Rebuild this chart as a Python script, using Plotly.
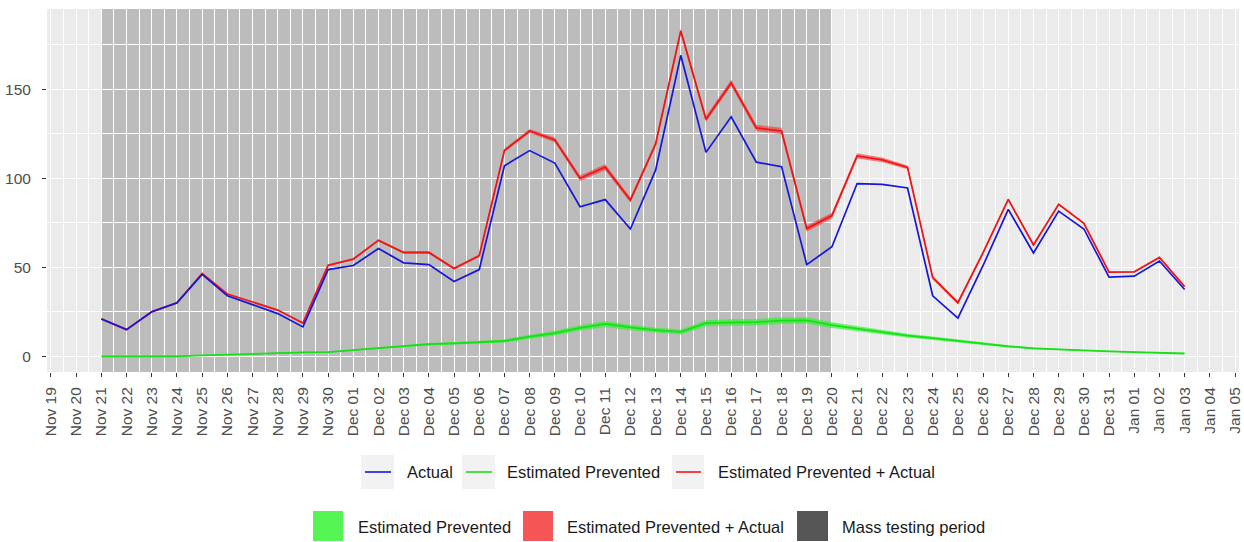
import plotly.graph_objects as go
from datetime import datetime, timedelta

# ---------------- data ----------------
dates = ["2020-11-21", "2020-11-22", "2020-11-23", "2020-11-24", "2020-11-25",
         "2020-11-26", "2020-11-27", "2020-11-28", "2020-11-29", "2020-11-30",
         "2020-12-01", "2020-12-02", "2020-12-03", "2020-12-04", "2020-12-05",
         "2020-12-06", "2020-12-07", "2020-12-08", "2020-12-09", "2020-12-10",
         "2020-12-11", "2020-12-12", "2020-12-13", "2020-12-14", "2020-12-15",
         "2020-12-16", "2020-12-17", "2020-12-18", "2020-12-19", "2020-12-20",
         "2020-12-21", "2020-12-22", "2020-12-23", "2020-12-24", "2020-12-25",
         "2020-12-26", "2020-12-27", "2020-12-28", "2020-12-29", "2020-12-30",
         "2020-12-31", "2021-01-01", "2021-01-02", "2021-01-03"]

actual = [21, 15, 25, 30, 46, 34, 29, 24, 16.5, 48.7,
          51, 60.5, 52.5, 51.5, 42, 48.7, 107, 115.5, 108.5, 84,
          88, 71.5, 104.5, 169, 114.5, 134.5, 109, 106.5, 51.5, 61.5,
          97, 96.5, 94.5, 34, 21.5, 51, 82.5, 58, 81.5, 71.5,
          44.5, 45, 53.5, 37.5]

prevented = [0, 0, 0, 0, 0.5, 1, 1.5, 2, 2.2, 2.4,
             3.6, 4.6, 5.8, 6.8, 7.3, 7.8, 8.6, 11, 13, 16,
             18.2, 16.2, 14.7, 13.7, 18.6, 19, 19.2, 20, 20.2, 17.5,
             15.5, 13.8, 11.6, 10.2, 8.6, 7.2, 5.6, 4.5, 3.8, 3.2,
             2.8, 2.4, 2, 1.6]

prevented_err = [0, 0, 0, 0, 0.1, 0.15, 0.2, 0.25, 0.3, 0.3,
                 0.4, 0.5, 0.6, 0.7, 0.7, 0.8, 0.9, 1.1, 1.3, 1.5,
                 1.7, 1.5, 1.4, 1.4, 1.7, 1.8, 1.8, 1.8, 1.8, 1.6,
                 1.5, 1.3, 1.1, 1.0, 0.9, 0.8, 0.6, 0.5, 0.4, 0.35,
                 0.3, 0.25, 0.2, 0.15]

mass_testing = ["2020-11-21", "2020-12-20"]
x_limits = ["2020-11-19", "2021-01-05"]
y_ticks = [0, 50, 100, 150]

line_legend = ["Actual", "Estimated Prevented", "Estimated Prevented + Actual"]
fill_legend = ["Estimated Prevented", "Estimated Prevented + Actual", "Mass testing period"]

# ---------------- derived ----------------
prev_lo = [p - e for p, e in zip(prevented, prevented_err)]
prev_hi = [p + e for p, e in zip(prevented, prevented_err)]
total = [a + p for a, p in zip(actual, prevented)]
total_lo = [a + p for a, p in zip(actual, prev_lo)]
total_hi = [a + p for a, p in zip(actual, prev_hi)]

BLUE = "#1515DD"
GREEN = "#15E015"
RED = "#F01515"

fig = go.Figure()

# green ribbon
fig.add_trace(go.Scatter(x=dates, y=prev_lo, mode="lines", line=dict(width=0),
                         showlegend=False, hoverinfo="skip"))
fig.add_trace(go.Scatter(x=dates, y=prev_hi, mode="lines", line=dict(width=0),
                         fill="tonexty", fillcolor="rgba(40,245,40,0.65)",
                         showlegend=False, hoverinfo="skip"))
fig.add_trace(go.Scatter(x=dates, y=prevented, mode="lines",
                         line=dict(color=GREEN, width=1.8), showlegend=False))
# red ribbon
fig.add_trace(go.Scatter(x=dates, y=total_lo, mode="lines", line=dict(width=0),
                         showlegend=False, hoverinfo="skip"))
fig.add_trace(go.Scatter(x=dates, y=total_hi, mode="lines", line=dict(width=0),
                         fill="tonexty", fillcolor="rgba(250,40,40,0.55)",
                         showlegend=False, hoverinfo="skip"))
fig.add_trace(go.Scatter(x=dates, y=total, mode="lines",
                         line=dict(color=RED, width=1.8), showlegend=False))
# actual
fig.add_trace(go.Scatter(x=dates, y=actual, mode="lines",
                         line=dict(color=BLUE, width=1.7), showlegend=False))

# mass testing shading
fig.add_shape(type="rect", xref="x", yref="paper", x0=mass_testing[0], x1=mass_testing[1],
              y0=0, y1=1, fillcolor="rgba(0,0,0,0.2)", line=dict(width=0), layer="between")

# ---------------- layout ----------------
W, H = 1244, 542
ML, MR, MT, MB = 47, 5, 9, 170
PW, PH = W - ML - MR, H - MT - MB

def px(x):
    return (x - ML) / PW

def py(y):
    return (H - MB - y) / PH

pad = timedelta(hours=3.8)
x0 = datetime.fromisoformat(x_limits[0]) - pad
x1 = datetime.fromisoformat(x_limits[1]) + pad

fig.update_layout(
    width=W, height=H,
    margin=dict(l=ML, r=MR, t=MT, b=MB, pad=0),
    paper_bgcolor="white", plot_bgcolor="#EBEBEB",
    font=dict(family="Liberation Sans, Arial, sans-serif", size=15.5, color="#4D4D4D"),
    showlegend=False,
    xaxis=dict(type="date", range=[x0, x1], dtick=86400000, tick0="2020-11-19",
               tickformat="%b %d", tickangle=-90, automargin=False,
               showgrid=True, gridcolor="white", gridwidth=1.2,
               minor=dict(dtick=43200000, showgrid=True, gridcolor="white", gridwidth=0.5),
               ticks="outside", ticklen=4, tickcolor="#333333", tickwidth=1,
               ticklabelstandoff=4,
               zeroline=False, showline=False,
               tickfont=dict(size=15.5, color="#4D4D4D")),
    yaxis=dict(range=[-8.8, 195], tickvals=y_ticks, automargin=False,
               showgrid=True, gridcolor="white", gridwidth=1.2,
               minor=dict(tickvals=[25, 75, 125, 175], showgrid=True, gridcolor="white", gridwidth=0.5),
               ticks="outside", ticklen=4, tickcolor="#333333", tickwidth=1,
               ticklabelstandoff=8,
               zeroline=False, showline=False,
               tickfont=dict(size=15.5, color="#4D4D4D")),
)

# ---------------- manual legend ----------------
shapes = []
annots = []
# row 1: line keys
row1_keys = [(361, 394), (462, 495), (672, 704)]
row1_text_x = [406, 506, 717]
row1_colors = [BLUE, GREEN, RED]
for (k0, k1), tx, col, lab in zip(row1_keys, row1_text_x, row1_colors, line_legend):
    shapes.append(dict(type="rect", xref="paper", yref="paper",
                       x0=px(k0), x1=px(k1), y0=py(489), y1=py(455),
                       fillcolor="#F2F2F2", line=dict(width=0)))
    shapes.append(dict(type="line", xref="paper", yref="paper",
                       x0=px(k0 + 4), x1=px(k1 - 3), y0=py(472), y1=py(472),
                       line=dict(color=col, width=1.6)))
    annots.append(dict(xref="paper", yref="paper", x=px(tx), y=py(472), text=lab,
                       showarrow=False, xanchor="left", yanchor="middle",
                       font=dict(size=16.5, color="#1A1A1A"), borderpad=0))
# row 2: fill keys
row2_keys = [(313, 343), (523, 553), (797, 828)]
row2_text_x = [357, 566, 841]
row2_colors = ["#55F555", "#F55555", "#555555"]
for (k0, k1), tx, col, lab in zip(row2_keys, row2_text_x, row2_colors, fill_legend):
    shapes.append(dict(type="rect", xref="paper", yref="paper",
                       x0=px(k0), x1=px(k1), y0=py(541), y1=py(511),
                       fillcolor=col, line=dict(width=0)))
    annots.append(dict(xref="paper", yref="paper", x=px(tx), y=py(527), text=lab,
                       showarrow=False, xanchor="left", yanchor="middle",
                       font=dict(size=16.5, color="#1A1A1A"), borderpad=0))

for s in shapes:
    fig.add_shape(**s)
fig.update_layout(annotations=annots)

fig.write_html("out.html", config={"displayModeBar": False},
               post_script="document.body.style.margin='0px';document.body.style.overflow='hidden';")
